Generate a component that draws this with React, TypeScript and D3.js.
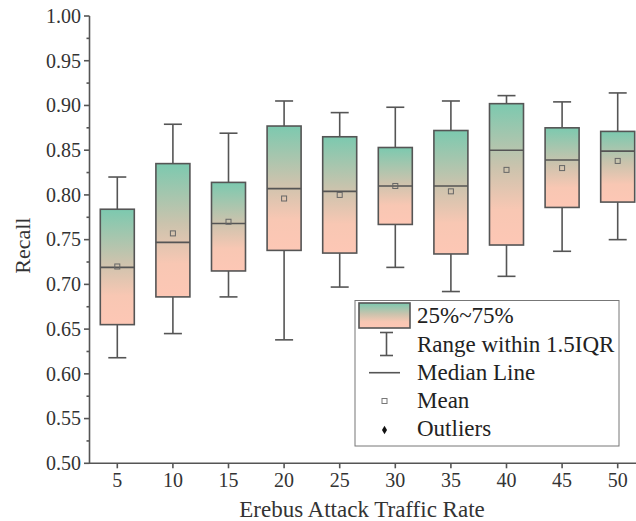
import React from "react";
import * as d3 from "d3";

// values
const rates = [5, 10, 15, 20, 25, 30, 35, 40, 45, 50];
const whiskerHigh = [0.820, 0.879, 0.869, 0.905, 0.892, 0.898, 0.905, 0.911, 0.904, 0.914];
const q3 = [0.784, 0.835, 0.814, 0.877, 0.865, 0.853, 0.872, 0.902, 0.875, 0.871];
const medians = [0.719, 0.747, 0.768, 0.807, 0.804, 0.810, 0.810, 0.850, 0.839, 0.849];
const means = [0.720, 0.757, 0.770, 0.796, 0.800, 0.810, 0.804, 0.828, 0.830, 0.838];
const q1 = [0.655, 0.686, 0.715, 0.738, 0.735, 0.767, 0.734, 0.744, 0.786, 0.792];
const whiskerLow = [0.618, 0.645, 0.686, 0.638, 0.697, 0.719, 0.692, 0.709, 0.737, 0.750];
const legendLabels = ["25%~75%", "Range within 1.5IQR", "Median Line", "Mean", "Outliers"];

const width = 636;
const height = 521;
const axisColor = "#555";
const font = "'Liberation Serif', 'Times New Roman', serif";

export default function App() {
  const x = d3.scaleLinear().domain([2.5, 52.5]).range([89.5, 645.5]);
  const y = d3.scaleLinear().domain([0.5, 1.0]).range([463.3, 16]);
  const yTicks = y.ticks(10);
  const yMinor = d3.range(0.525, 1.0, 0.05);
  const fmt = d3.format(".2f");
  const boxW = 34;
  const capW = 18;

  const boxes = rates.map((r, i) => ({
    r, hi: whiskerHigh[i], q3: q3[i], med: medians[i], mean: means[i], q1: q1[i], lo: whiskerLow[i],
  }));

  const lx = 359, ly = 303;
  const rowY = [323, 352, 380, 408, 436];

  return (
    <svg width={width} height={height} style={{ position: "absolute", left: 0, top: 0, background: "#fff" }}
      fontFamily={font}>
      <defs>
        <linearGradient id="boxGrad" x1="0" y1="0" x2="0" y2="1">
          <stop offset="0" stopColor="#7cc9af" />
          <stop offset="0.45" stopColor="#cbc3ad" />
          <stop offset="0.75" stopColor="#f8c7b3" />
          <stop offset="1" stopColor="#fdc7b5" />
        </linearGradient>
      </defs>

      {/* boxes */}
      {boxes.map(b => {
        const cx = x(b.r);
        return (
          <g key={b.r} stroke={axisColor} strokeWidth={1.6} fill="none">
            <line x1={cx} x2={cx} y1={y(b.hi)} y2={y(b.q3)} />
            <line x1={cx} x2={cx} y1={y(b.q1)} y2={y(b.lo)} />
            <line x1={cx - capW / 2} x2={cx + capW / 2} y1={y(b.hi)} y2={y(b.hi)} />
            <line x1={cx - capW / 2} x2={cx + capW / 2} y1={y(b.lo)} y2={y(b.lo)} />
            <rect x={cx - boxW / 2} y={y(b.q3)} width={boxW} height={y(b.q1) - y(b.q3)} fill="url(#boxGrad)" />
            <line x1={cx - boxW / 2} x2={cx + boxW / 2} y1={y(b.med)} y2={y(b.med)} />
            <rect x={cx - 2.5} y={y(b.mean) - 2.5} width={5} height={5} strokeWidth={1} stroke="#666" />
          </g>
        );
      })}

      {/* y axis */}
      <g stroke={axisColor} strokeWidth={1.6}>
        <line x1={89.5} x2={89.5} y1={y(1.0)} y2={y(0.5)} />
        {yTicks.map(t => <line key={t} x1={84} x2={89.5} y1={y(t)} y2={y(t)} />)}
        {yMinor.map(t => <line key={t} x1={86.5} x2={89.5} y1={y(t)} y2={y(t)} />)}
      </g>
      {yTicks.map(t => (
        <text key={t} x={81} y={y(t)} dy="0.34em" textAnchor="end" fontSize={20} fill="#333">{fmt(t)}</text>
      ))}
      <text transform={`translate(30,${(y(0.5) + y(1.0)) / 2 + 6}) rotate(-90)`} textAnchor="middle" fontSize={22} fill="#333">Recall</text>

      {/* x axis */}
      <g stroke={axisColor} strokeWidth={1.6}>
        <line x1={89} x2={width} y1={y(0.5)} y2={y(0.5)} />
        {rates.map(r => <line key={r} x1={x(r)} x2={x(r)} y1={y(0.5)} y2={y(0.5) + 5} />)}
      </g>
      {rates.map(r => (
        <text key={r} x={x(r)} y={487} textAnchor="middle" fontSize={20} fill="#333">{r}</text>
      ))}
      <text x={362} y={517} textAnchor="middle" fontSize={23} fill="#333">Erebus Attack Traffic Rate</text>

      {/* legend */}
      <rect x={355} y={300.5} width={264} height={145.5} fill="#fff" stroke="#777" strokeWidth={1} />
      <rect x={lx} y={ly} width={51} height={25} fill="url(#boxGrad)" stroke={axisColor} strokeWidth={1.6} />
      <g stroke={axisColor} strokeWidth={1.6}>
        <line x1={386.5} x2={386.5} y1={332.5} y2={355.5} />
        <line x1={380} x2={393} y1={332.5} y2={332.5} />
        <line x1={380} x2={393} y1={355.5} y2={355.5} />
        <line x1={369} x2={400} y1={372.7} y2={372.7} />
      </g>
      <rect x={382} y={398.5} width={5} height={5} fill="none" stroke="#777" strokeWidth={1} />
      <path d={d3.symbol(d3.symbolDiamond, 22)() as string} transform="translate(384.5,430)" fill="#111" />
      {legendLabels.map((l, i) => (
        <text key={l} x={417} y={rowY[i]} fontSize={23} fill="#222">{l}</text>
      ))}
    </svg>
  );
}
